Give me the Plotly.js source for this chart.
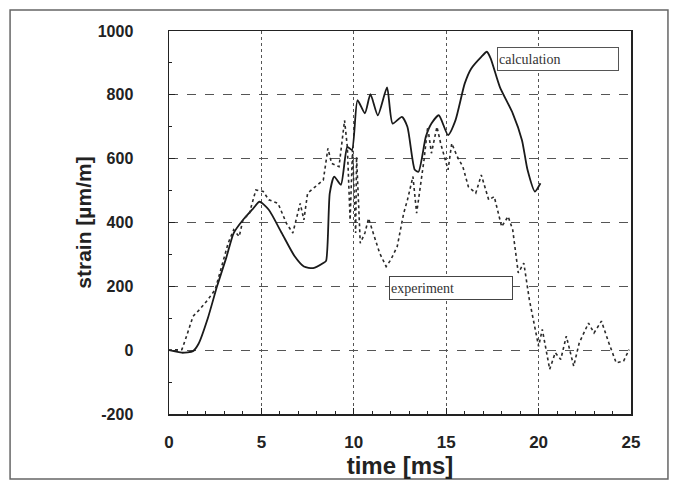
<!DOCTYPE html>
<html>
<head>
<meta charset="utf-8">
<script src="https://cdn.plot.ly/plotly-3.0.1.min.js"></script>
<style>html,body{margin:0;padding:0;background:#fff;}#chart{width:681px;height:486px;}</style>
</head>
<body>
<div id="chart"></div>
<script>
// Calculation (solid line)
const calcTime = [0, 0.7, 1.3, 1.6, 2.1, 2.6, 3.1, 3.5, 4.0, 4.5, 4.9, 5.4, 6.1, 6.8, 7.3, 7.8, 8.35, 8.5, 8.7, 8.94, 9.3, 9.65, 9.9, 10.2, 10.6, 10.9, 11.3, 11.8, 12.1, 12.6, 12.9, 13.3, 13.5, 13.9, 14.2, 14.6, 15.1, 15.5, 16.0, 16.35, 16.9, 17.2, 17.4, 17.9, 18.6, 19.1, 19.4, 19.8, 20.1];
const calcStrain = [0, -8, -3, 20, 100, 200, 290, 367, 408, 440, 465, 440, 367, 294, 262, 257, 273, 280, 492, 544, 518, 637, 627, 783, 742, 802, 736, 823, 710, 731, 700, 565, 559, 669, 710, 736, 674, 720, 835, 882, 919, 935, 915, 825, 742, 658, 565, 497, 523];

// Experiment (dotted line)
const expTime = [0, 0.7, 0.95, 1.3, 1.65, 2.1, 2.5, 2.9, 3.2, 3.5, 3.8, 4.0, 4.35, 4.7, 5.1, 5.4, 5.9, 6.35, 6.7, 7.1, 7.3, 7.5, 7.9, 8.35, 8.6, 8.8, 9.2, 9.5, 9.65, 9.8, 9.93, 10.1, 10.15, 10.35, 10.6, 10.8, 11.05, 11.4, 11.75, 12.0, 12.35, 12.7, 12.9, 13.2, 13.4, 13.8, 14.0, 14.2, 14.5, 14.7, 15.1, 15.3, 15.6, 15.9, 16.2, 16.6, 16.9, 17.3, 17.6, 18.0, 18.35, 18.6, 18.9, 19.2, 19.5, 20.0, 20.2, 20.6, 20.9, 21.2, 21.5, 21.9, 22.2, 22.7, 23.0, 23.4, 23.8, 24.2, 24.6, 24.9];
const expStrain = [0, 2, 44, 106, 127, 158, 190, 273, 335, 377, 356, 408, 429, 502, 497, 471, 460, 398, 367, 460, 408, 492, 512, 533, 632, 585, 575, 720, 637, 408, 627, 367, 606, 335, 367, 413, 367, 304, 262, 283, 325, 429, 470, 544, 429, 596, 700, 617, 700, 648, 565, 648, 606, 575, 512, 492, 549, 471, 481, 387, 419, 377, 242, 273, 158, 12, 65, -60, -8, -29, 44, -50, 23, 85, 54, 91, 23, -40, -34, 2];

const xTicks = [0, 5, 10, 15, 20, 25];
const yTicks = [-200, 0, 200, 400, 600, 800, 1000];
const labels = ["calculation", "experiment"];

const traces = [
  {x: calcTime, y: calcStrain, mode: 'lines', name: labels[0],
   line: {color: '#1a1a1a', width: 1.8, shape: 'spline', smoothing: 0.6}},
  {x: expTime, y: expStrain, mode: 'lines', name: labels[1],
   line: {color: '#2a2a2a', width: 1.6, dash: 'dot'}}
];

const sans = 'Liberation Sans, Arial, sans-serif';
const axisFont = {family: sans, size: 16, color: '#222', weight: 'bold'};

const layout = {
  width: 681, height: 486,
  paper_bgcolor: '#ffffff', plot_bgcolor: '#ffffff',
  margin: {l: 169, r: 50, t: 31, b: 72},
  showlegend: false,
  xaxis: {
    range: [0, 25], tickvals: xTicks, ticktext: xTicks.map(String),
    showline: true, linecolor: '#222', linewidth: 1.5, mirror: true,
    ticks: 'inside', ticklen: 6, tickcolor: '#222',
    minor: {dtick: 1, ticks: 'inside', ticklen: 3, tickcolor: '#222', showgrid: false},
    showgrid: true, gridcolor: '#555', griddash: 'dot', gridwidth: 1,
    zeroline: false, tickfont: {family: sans, size: 17, color: '#222', weight: 'bold'}, ticklabelstandoff: 12,
    title: {text: 'time [ms]', font: {family: sans, size: 24, color: '#222', weight: 'bold'}, standoff: 0}
  },
  yaxis: {
    range: [-200, 1000], tickvals: yTicks, ticktext: yTicks.map(String),
    showline: true, linecolor: '#222', linewidth: 1.5, mirror: true,
    ticks: 'inside', ticklen: 6, tickcolor: '#222',
    minor: {dtick: 100, ticks: 'inside', ticklen: 3, tickcolor: '#222', showgrid: false},
    showgrid: true, gridcolor: '#555', griddash: 'dash', gridwidth: 1,
    zeroline: false, tickfont: axisFont, ticklabelstandoff: 31,
    title: {text: 'strain [µm/m]', font: {family: sans, size: 21, color: '#222', weight: 'bold'}, standoff: 0}
  },
  annotations: [
    {x: 17.75, y: 913, xref: 'x', yref: 'y', xanchor: 'left', yanchor: 'middle',
     text: labels[0], showarrow: false, align: 'left', width: 118, height: 20,
     font: {family: 'Liberation Serif, Times New Roman, serif', size: 14, color: '#333'},
     bordercolor: '#555', borderwidth: 1, borderpad: 1, bgcolor: '#fff'},
    {x: 11.9, y: 195, xref: 'x', yref: 'y', xanchor: 'left', yanchor: 'middle',
     text: labels[1], showarrow: false, align: 'left', width: 120, height: 20,
     font: {family: 'Liberation Serif, Times New Roman, serif', size: 14, color: '#333'},
     bordercolor: '#444', borderwidth: 1, borderpad: 1, bgcolor: '#fff'}
  ],
  shapes: [
    {type: 'rect', xref: 'paper', yref: 'paper', x0: -0.344, x1: 1.08, y0: -0.170, y1: 1.055,
     line: {color: '#666', width: 1.5}, layer: 'below'}
  ]
};

Plotly.newPlot('chart', traces, layout, {staticPlot: true, displayModeBar: false});
</script>
</body>
</html>
